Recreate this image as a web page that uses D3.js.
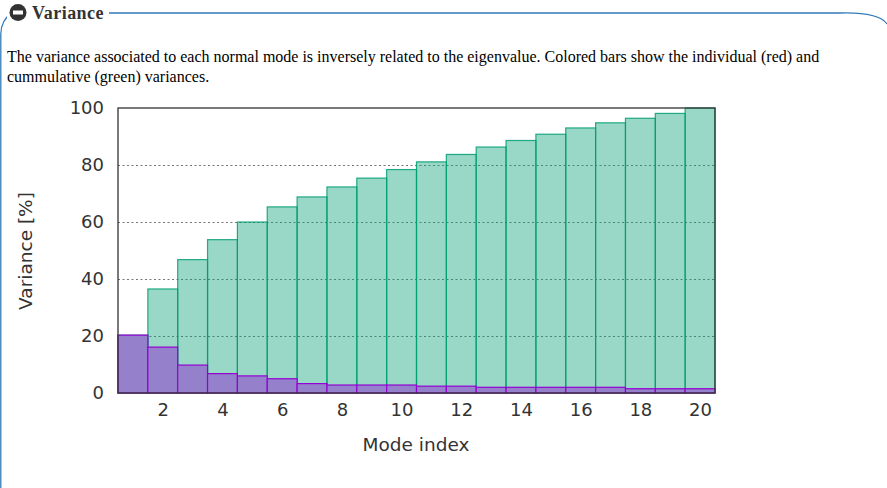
<!DOCTYPE html>
<html>
<head>
<meta charset="utf-8">
<script src="https://cdn.jsdelivr.net/npm/d3@7"></script>
<style>
html, body { margin: 0; padding: 0; background: #fff; overflow: hidden; }
svg { display: block; }
.tick text { font-family: "DejaVu Sans", sans-serif; font-size: 18px; fill: #333; }
.label { font-family: "DejaVu Sans", sans-serif; font-size: 18.5px; fill: #333; }
.para { font-family: "Liberation Serif", serif; font-size: 16px; fill: #000; }
</style>
</head>
<body>
<div id="Bar"></div>
<script>
var modes = d3.range(1, 21);
var individual = [20.3, 16.1, 9.8, 6.8, 6.0, 5.0, 3.3, 2.8, 2.8, 2.8, 2.4, 2.4, 2.0, 2.0, 2.0, 2.0, 2.0, 1.5, 1.5, 1.5];
var cumulative = [20.3, 36.5, 46.8, 53.8, 60.0, 65.3, 68.8, 72.3, 75.4, 78.4, 81.1, 83.7, 86.3, 88.6, 90.8, 93.0, 94.8, 96.4, 98.1, 100];
var xTicks = [2, 4, 6, 8, 10, 12, 14, 16, 18, 20];
var yTicks = [0, 20, 40, 60, 80, 100];
var paragraph = [
  "The variance associated to each normal mode is inversely related to the eigenvalue. Colored bars show the individual (red) and",
  "cummulative (green) variances."
];

var width = 887, height = 488;
var margin = {top: 108, right: 172, bottom: 95, left: 118};
var innerWidth = width - margin.left - margin.right,
    innerHeight = height - margin.top - margin.bottom;

var svg = d3.select("#Bar").append("svg")
    .attr("width", width)
    .attr("height", height);

// collapsible panel frame
svg.append("path")
    .attr("d", "M0.8,488 V34 Q1,20 12,13 H840 Q879,12 887,24")
    .attr("fill", "none")
    .attr("stroke", "#337ab7")
    .attr("stroke-width", 1.3);

svg.append("rect").attr("x", 7).attr("y", 0).attr("width", 102).attr("height", 26).attr("fill", "#fff");
svg.append("circle").attr("cx", 18).attr("cy", 12.5).attr("r", 8.5).attr("fill", "#333");
svg.append("rect").attr("x", 13).attr("y", 10.5).attr("width", 10).attr("height", 4).attr("fill", "#fff");
svg.append("text")
    .attr("x", 32).attr("y", 19)
    .attr("font-family", "Liberation Serif, serif")
    .attr("font-size", 18)
    .attr("font-weight", "bold")
    .attr("letter-spacing", 0.45)
    .attr("fill", "#333")
    .text("Variance");

svg.selectAll(".para")
    .data(paragraph)
    .enter().append("text")
    .attr("class", "para")
    .attr("x", 7)
    .attr("y", function(d, i) { return 62 + i * 20; })
    .text(function(d) { return d; });

var g = svg.append("g").attr("transform", "translate(" + margin.left + "," + margin.top + ")");

var x = d3.scaleLinear().domain([0.5, 20.5]).range([0, innerWidth]);
var y = d3.scaleLinear().domain([0, 100]).range([innerHeight, 0]);

// grid
g.selectAll(".grid")
    .data(yTicks.slice(1, -1))
    .enter().append("line")
    .attr("x1", 0).attr("x2", innerWidth)
    .attr("y1", function(d) { return y(d) + 0.5; })
    .attr("y2", function(d) { return y(d) + 0.5; })
    .attr("stroke", "#777")
    .attr("stroke-width", 1)
    .attr("stroke-dasharray", "2,2.5");

g.selectAll(".cum")
    .data(modes)
    .enter().append("rect")
    .attr("x", function(d) { return x(d - 0.5); })
    .attr("y", function(d, i) { return y(cumulative[i]); })
    .attr("width", x(2) - x(1))
    .attr("height", function(d, i) { return innerHeight - y(cumulative[i]); })
    .attr("fill", "#009e73")
    .attr("fill-opacity", 0.4)
    .attr("stroke", "#009e73")
    .attr("stroke-opacity", 0.85)
    .attr("stroke-width", 1.2);

g.selectAll(".ind")
    .data(modes)
    .enter().append("rect")
    .attr("x", function(d) { return x(d - 0.5); })
    .attr("y", function(d, i) { return y(individual[i]); })
    .attr("width", x(2) - x(1))
    .attr("height", function(d, i) { return innerHeight - y(individual[i]); })
    .attr("fill", "#9580cc")
    .attr("stroke", "#9400d3")
    .attr("stroke-width", 1.2);

// plot border
g.append("rect")
    .attr("width", innerWidth)
    .attr("height", innerHeight)
    .attr("fill", "none")
    .attr("stroke", "#333")
    .attr("stroke-width", 1.3);

var xAxis = g.append("g")
    .attr("transform", "translate(0," + innerHeight + ")")
    .call(d3.axisBottom(x).tickValues(xTicks).tickSize(0).tickPadding(10));
xAxis.select(".domain").remove();
xAxis.selectAll("text").attr("dy", "0.71em");

var yAxis = g.append("g")
    .call(d3.axisLeft(y).tickValues(yTicks).tickSize(0).tickPadding(14));
yAxis.select(".domain").remove();

svg.append("text")
    .attr("class", "label")
    .attr("x", 416).attr("y", 451)
    .attr("text-anchor", "middle")
    .text("Mode index");

svg.append("text")
    .attr("class", "label")
    .attr("transform", "translate(32,251) rotate(-90)")
    .attr("text-anchor", "middle")
    .text("Variance [%]");
</script>
</body>
</html>
